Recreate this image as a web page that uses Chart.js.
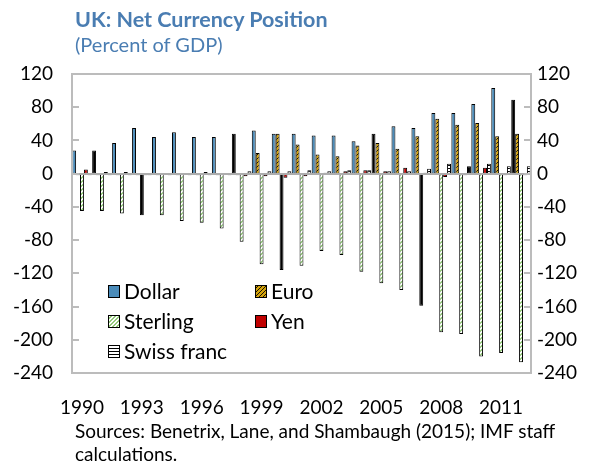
<!DOCTYPE html>
<html><head><meta charset="utf-8">
<script src="https://cdn.jsdelivr.net/npm/chart.js@4.4.0/dist/chart.umd.min.js"></script>
<style>
html,body{margin:0;padding:0;background:#fff;}
#wrap{position:relative;width:596px;height:466px;overflow:hidden;font-family:Lato, "Noto Sans", sans-serif;}
#c{position:absolute;left:0;top:0;}
.t{position:absolute;white-space:nowrap;}
#title{left:75px;top:6px;font-weight:bold;font-size:21.5px;color:#4a7db2;}
#sub{left:75px;top:32px;font-size:20px;color:#4a7db2;}
#src{left:75px;top:419px;font-size:19px;line-height:23px;color:#000;}
</style></head><body>
<div id="wrap">
<canvas id="c" width="596" height="466"></canvas>
<div class="t" id="title">UK: Net Currency Position</div>
<div class="t" id="sub">(Percent of GDP)</div>
<div class="t" id="src">Sources: Benetrix, Lane, and Shambaugh (2015); IMF staff<br>calculations.</div>
</div>
<script>
// ---- data ----
const years = ['1990','1991','1992','1993','1994','1995','1996','1997','1998','1999','2000','2001',
               '2002','2003','2004','2005','2006','2007','2008','2009','2010','2011','2012'];
const xTickLabels = ['1990','1993','1996','1999','2002','2005','2008','2011'];
const yTickValues = [120, 80, 40, 0, -40, -80, -120, -160, -200, -240];
const seriesNames = ['Dollar', 'Euro', 'Sterling', 'Yen', 'Swiss franc'];
const dollar   = [28, 28, 37, 55, 44, 50, 44, 44, 48, 52, 48, 48, 46, 46, 39, 48, 57, 55, 73, 73, 84, 103, 89];
const euro     = [-2, -2, -2, -2, -2, -2, -2, -2, -2, 25, 48, 35, 23, 21, 34, 37, 30, 45, 66, 59, 61, 45, 48];
const sterling = [-45, -45, -48, -50, -50, -57, -59, -66, -82, -109, -116, -111, -93, -98, -118, -132, -140, -159, -191, -193, -220, -216, -227];
const yen      = [5, 2, 2, -2, -1, -1, 2, -1, -3, -3, -5, -3, 1, 3, 4, 3, 7, 1, -4, -2, 7, -2, -2];
const swiss    = [-2, -2, -2, -2, -2, -2, -2, -2, 3, 3, 3, 4, 3, 4, 4, 3, 3, 6, 12, 9, 12, 9, 9];
// years whose bar is rendered solid black in the original picture (style only)
const blackDollarYears   = ['1991', '1998', '2005', '2012'];
const blackSterlingYears = ['1993', '2000', '2007'];
const blackSwissYears    = ['2009'];

// ---- patterns ----
function makePattern(size, bg, fg, pixels) {
  const cv = document.createElement('canvas');
  cv.width = size; cv.height = size;
  const g = cv.getContext('2d');
  g.fillStyle = bg; g.fillRect(0, 0, size, size);
  g.fillStyle = fg;
  pixels.forEach(p => g.fillRect(p[0], p[1], 1, 1));
  return g.createPattern(cv, 'repeat');
}
const diag = [[0,3],[1,2],[2,1],[3,0]];
const euroFill = makePattern(4, '#d3a20c', '#1a1400', diag);
const sterFill = makePattern(4, '#ffffff', '#93c97a', [[0,3],[1,2],[2,1],[3,0],[0,2],[1,1],[2,0],[3,3]]);
const swissFill = makePattern(3, '#ffffff', '#000000', [[0,0],[1,0],[2,0]]);
const dollarFill = '#4b8cba';
const yenFill = '#c00000';

function fillWithBlack(fill, blackYears) {
  return ctx => blackYears.includes(years[ctx.dataIndex]) ? '#000000' : fill;
}

const fontFam = 'Lato, "Noto Sans", sans-serif';
const frameColor = '#bcbcbc';

const overlay = {
  id: 'overlay',
  afterDatasetsDraw(chart) {
    const c = chart.ctx, a = chart.chartArea, y = chart.scales.y;
    c.save();
    // zero line
    const y0 = Math.round(y.getPixelForValue(0));
    c.strokeStyle = '#adadad'; c.lineWidth = 2;
    c.beginPath(); c.moveTo(a.left, y0); c.lineTo(a.right, y0); c.stroke();
    // frame
    c.strokeStyle = frameColor; c.lineWidth = 2;
    c.strokeRect(a.left, a.top, a.right - a.left, a.bottom - a.top);
    // inward tick marks
    yTickValues.forEach(v => {
      const py = Math.round(y.getPixelForValue(v));
      c.beginPath();
      c.moveTo(a.left, py); c.lineTo(a.left + 7, py);
      c.moveTo(a.right, py); c.lineTo(a.right - 7, py);
      c.stroke();
    });
    // legend
    const items = [
      {ds: 0, x: 108, y: 285}, {ds: 1, x: 255, y: 285},
      {ds: 2, x: 108, y: 315}, {ds: 3, x: 255, y: 315},
      {ds: 4, x: 108, y: 345}
    ];
    const fills = [dollarFill, euroFill, sterFill, yenFill, swissFill];
    c.font = '21px ' + fontFam;
    c.textBaseline = 'middle';
    c.textAlign = 'left';
    items.forEach(it => {
      c.fillStyle = fills[it.ds];
      c.fillRect(it.x, it.y, 12, 13);
      c.strokeStyle = '#000'; c.lineWidth = 1;
      c.strokeRect(it.x + 0.5, it.y + 0.5, 11, 12);
      c.fillStyle = '#000';
      c.fillText(chart.data.datasets[it.ds].label, it.x + 16, it.y + 7);
    });
    c.restore();
  }
};

const common = {barPercentage: 1.0, categoryPercentage: 0.98, borderColor: '#000', borderWidth: 1, borderSkipped: false};

new Chart(document.getElementById('c'), {
  type: 'bar',
  data: {
    labels: years,
    datasets: [
      Object.assign({label: seriesNames[0], data: dollar,   backgroundColor: fillWithBlack(dollarFill, blackDollarYears)}, common),
      Object.assign({label: seriesNames[1], data: euro,     backgroundColor: euroFill}, common),
      Object.assign({label: seriesNames[2], data: sterling, backgroundColor: fillWithBlack(sterFill, blackSterlingYears)}, common),
      Object.assign({label: seriesNames[3], data: yen,      backgroundColor: yenFill}, common),
      Object.assign({label: seriesNames[4], data: swiss,    backgroundColor: fillWithBlack(swissFill, blackSwissYears)}, common)
    ]
  },
  options: {
    responsive: false,
    animation: false,
    devicePixelRatio: 1,
    layout: {padding: {left: 0, right: 0, top: 74, bottom: 0}},
    plugins: {legend: {display: false}, tooltip: {enabled: false}, title: {display: false}},
    scales: {
      x: {
        position: 'bottom',
        grid: {display: false, drawTicks: false},
        border: {display: false},
        ticks: {
          autoSkip: false, maxRotation: 0, minRotation: 0, padding: 23,
          color: '#000', font: {family: fontFam, size: 19},
          callback: function(v, i) { const l = years[i]; return xTickLabels.includes(l) ? l : ''; }
        },
        afterFit: s => { s.height = 93; }
      },
      y: {
        position: 'left', min: -240, max: 120,
        grid: {display: false, drawTicks: false},
        border: {display: false},
        ticks: {stepSize: 40, padding: 19, color: '#000', font: {family: fontFam, size: 19}},
        afterFit: s => { s.width = 72; }
      },
      y2: {
        position: 'right', min: -240, max: 120,
        grid: {display: false, drawTicks: false},
        border: {display: false},
        ticks: {stepSize: 40, padding: 6, color: '#000', font: {family: fontFam, size: 19}},
        afterFit: s => { s.width = 65; }
      }
    }
  },
  plugins: [overlay]
});
</script>
</body></html>
